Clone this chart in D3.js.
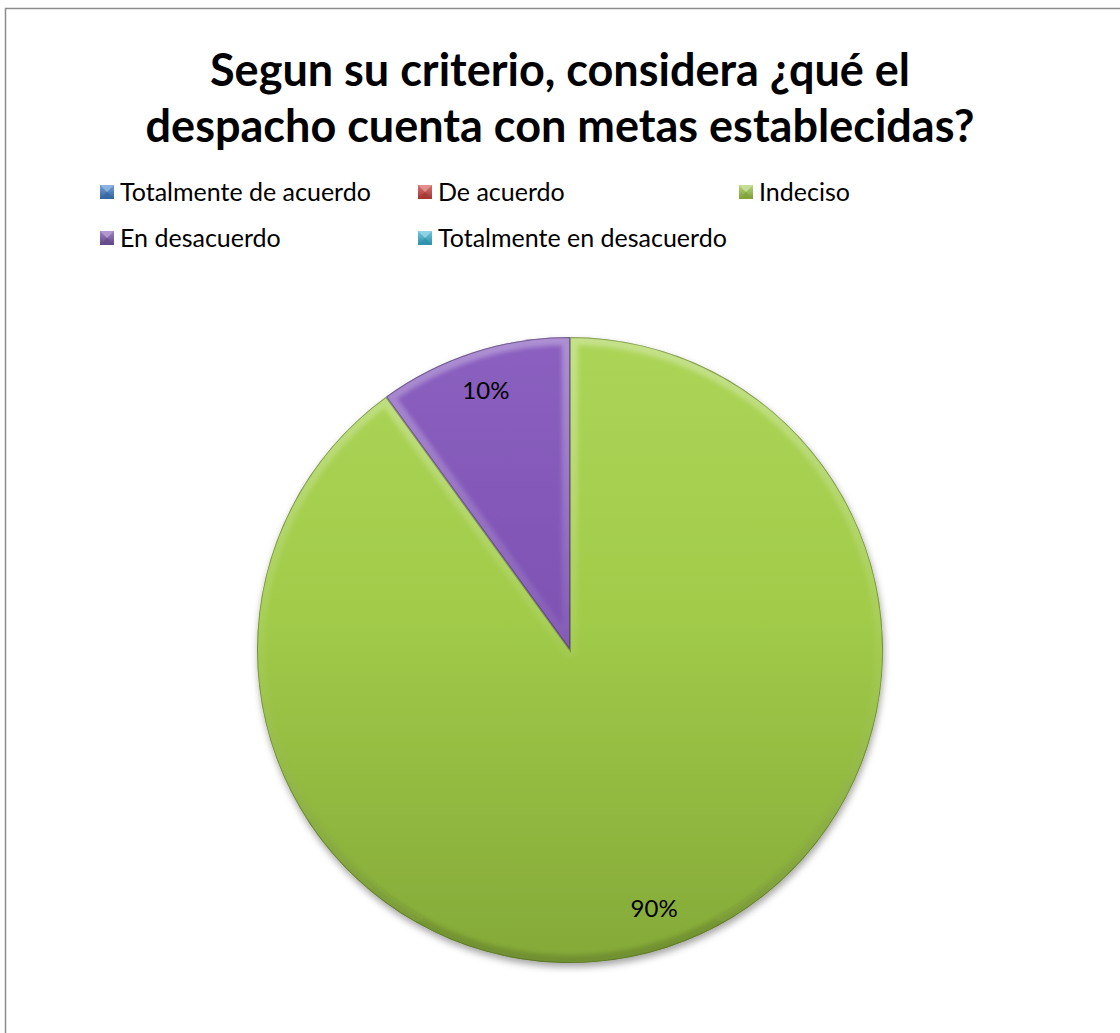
<!DOCTYPE html>
<html>
<head>
<meta charset="utf-8">
<script src="https://cdn.jsdelivr.net/npm/d3@7"></script>
<style>
  html, body { margin: 0; padding: 0; background: #fff; }
  svg { display: block; }
</style>
</head>
<body>
<svg id="chart" width="1120" height="1033"></svg>
<script>
// Survey answers and their shares
const categories = ["Totalmente de acuerdo", "De acuerdo", "Indeciso", "En desacuerdo", "Totalmente en desacuerdo"];
const values = [0, 0, 90, 10, 0];
const colors = ["#4F81BD", "#C0504D", "#9BBB59", "#8064A2", "#4BACC6"];
const titleLines = ["Segun su criterio, considera ¿qué el", "despacho cuenta con metas establecidas?"];

const W = 1120, H = 1033;
const FONT = "Lato, 'Open Sans', sans-serif";
const svg = d3.select("#chart");
const defs = svg.append("defs");

// Chart area frame
svg.append("rect")
  .attr("x", 5.5).attr("y", 8.5)
  .attr("width", W).attr("height", H)
  .attr("fill", "#fff").attr("stroke", "#8c8c8c").attr("stroke-width", 1.5);

// Title
const title = svg.append("text")
  .attr("text-anchor", "middle")
  .attr("font-family", FONT)
  .attr("font-weight", "bold")
  .attr("font-size", 45)
  .attr("fill", "#000");
titleLines.forEach((t, i) => {
  title.append("tspan").attr("x", 560).attr("y", 86 + i * 56).text(t);
});

// Pie geometry
const cx = 570, cy = 650, R = 313;

// Shade helper: richer saturation for the bevelled look
function tone(c, dl, ds) {
  const h = d3.hsl(c);
  h.l = Math.max(0, Math.min(1, h.l + dl));
  h.s = Math.max(0, Math.min(1, h.s + ds));
  return h.formatHex();
}

// Slice fill gradients (light top, darker bottom)
colors.forEach((c, i) => {
  const g = defs.append("linearGradient")
    .attr("id", "grad" + i)
    .attr("gradientUnits", "userSpaceOnUse")
    .attr("x1", 0).attr("y1", -R).attr("x2", 0).attr("y2", R);
  g.append("stop").attr("offset", "0%").attr("stop-color", tone(c, 0.05, 0.18));
  g.append("stop").attr("offset", "45%").attr("stop-color", tone(c, 0.0, 0.14));
  g.append("stop").attr("offset", "100%").attr("stop-color", tone(c, -0.1, 0.08));

  const mg = defs.append("linearGradient")
    .attr("id", "mgrad" + i)
    .attr("x1", 0).attr("y1", 0).attr("x2", 0).attr("y2", 1);
  mg.append("stop").attr("offset", "0%").attr("stop-color", tone(c, 0.12, 0.1));
  mg.append("stop").attr("offset", "100%").attr("stop-color", tone(c, -0.12, 0.05));
});

// Bevel rim gradient: highlight on top, shade at bottom
const rimGrad = defs.append("linearGradient")
  .attr("id", "rimGrad")
  .attr("gradientUnits", "userSpaceOnUse")
  .attr("x1", 0).attr("y1", -R).attr("x2", 0).attr("y2", R);
rimGrad.append("stop").attr("offset", "0%").attr("stop-color", "#fff").attr("stop-opacity", 0.3);
rimGrad.append("stop").attr("offset", "50%").attr("stop-color", "#fff").attr("stop-opacity", 0.05);
rimGrad.append("stop").attr("offset", "100%").attr("stop-color", "#000").attr("stop-opacity", 0.15);

// Legend
const legendCols = [100, 418, 739];
const legendRows = [192, 238];
const legend = svg.append("g")
  .attr("font-family", FONT)
  .attr("font-size", 25);
categories.forEach((name, i) => {
  const col = i % 3, row = Math.floor(i / 3);
  const x = legendCols[col], y = legendRows[row];
  const g = legend.append("g").attr("transform", `translate(${x},${y})`);
  const s = 14;
  g.append("rect").attr("x", 0).attr("y", -s / 2).attr("width", s).attr("height", s)
    .attr("fill", `url(#mgrad${i})`);
  // bevelled facets of the marker
  g.append("path")
    .attr("d", `M0,${-s / 2} L${s},${-s / 2} L${s / 2},0 Z`)
    .attr("fill", tone(colors[i], 0.2, 0.1)).attr("opacity", 0.9);
  g.append("path")
    .attr("d", `M0,${s / 2} L${s},${s / 2} L${s / 2},0 Z`)
    .attr("fill", tone(colors[i], -0.1, 0.05)).attr("opacity", 0.8);
  g.append("text").attr("x", s + 6).attr("y", 0).attr("dy", "0.35em").text(name);
});

// Pie
const pie = d3.pie().sort(null).value(d => d.value)
  .startAngle(0).endAngle(2 * Math.PI);
const data = categories.map((c, i) => ({ name: c, value: values[i], idx: i }));
const arcs = pie(data).filter(d => d.data.value > 0);
const arc = d3.arc().innerRadius(0).outerRadius(R);
const labelArc = d3.arc().innerRadius(R * 0.87).outerRadius(R * 0.87);

const shadow = defs.append("filter").attr("id", "shadow")
  .attr("x", "-10%").attr("y", "-10%").attr("width", "120%").attr("height", "125%");
shadow.append("feDropShadow").attr("dx", 1).attr("dy", 4).attr("stdDeviation", 3.5)
  .attr("flood-color", "#000").attr("flood-opacity", 0.35);

const soft = defs.append("filter").attr("id", "soft");
soft.append("feGaussianBlur").attr("stdDeviation", 2);

const pieG = svg.append("g").attr("transform", `translate(${cx},${cy})`);
const slices = pieG.append("g").attr("filter", "url(#shadow)");

arcs.forEach((d, k) => {
  const i = d.data.idx;
  const clipId = "clip" + k;
  defs.append("clipPath").attr("id", clipId)
    .append("path").attr("d", arc(d));
  const sg = slices.append("g");
  sg.append("path").attr("d", arc(d)).attr("fill", `url(#grad${i})`);
  // soft bevel along the slice edges
  const rim = sg.append("g").attr("clip-path", `url(#${clipId})`);
  rim.append("path").attr("d", arc(d))
    .attr("fill", "none").attr("stroke", "url(#rimGrad)")
    .attr("stroke-width", 16).attr("stroke-linejoin", "round")
    .attr("filter", "url(#soft)");
  rim.append("path").attr("d", arc(d))
    .attr("fill", "none").attr("stroke", tone(colors[i], -0.28, 0))
    .attr("stroke-width", 2).attr("stroke-opacity", 0.5);
});

// Percentage labels
pieG.append("g")
  .attr("font-family", FONT)
  .attr("font-size", 24).attr("fill", "#000")
  .selectAll("text").data(arcs).join("text")
  .attr("transform", d => `translate(${labelArc.centroid(d)})`)
  .attr("text-anchor", "middle").attr("dy", "0.35em")
  .text(d => d3.format(".0%")(d.data.value / d3.sum(values)));
</script>
</body>
</html>
